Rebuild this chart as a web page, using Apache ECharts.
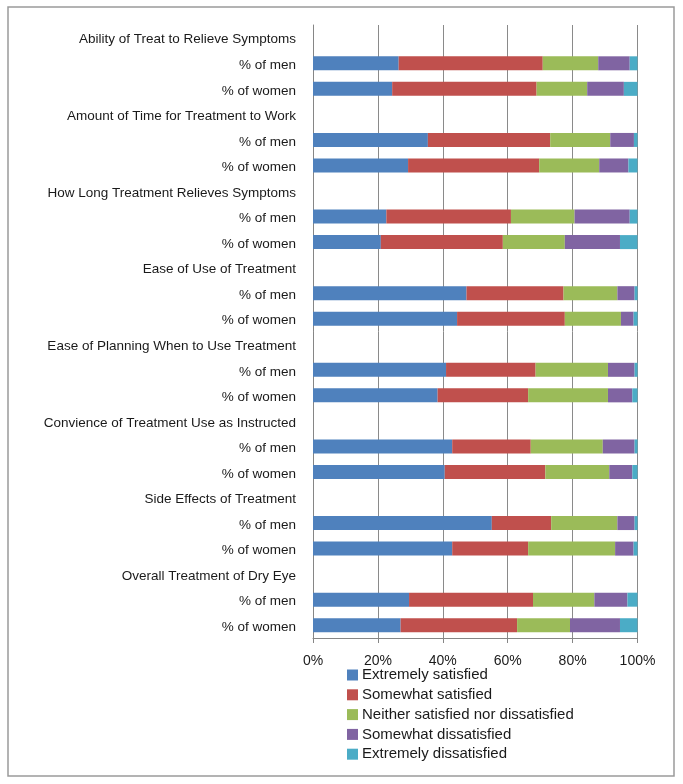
<!DOCTYPE html>
<html>
<head>
<meta charset="utf-8">
<script src="https://cdn.jsdelivr.net/npm/echarts@6/dist/echarts.min.js"></script>
<style>
html,body{margin:0;padding:0;background:#fff;}
#chart{width:683px;height:784px;}
</style>
</head>
<body>
<div id="chart"></div>
<script>
const categories = [
  'Ability of Treat to Relieve Symptoms', '% of men', '% of women',
  'Amount of Time for Treatment to Work', '% of men', '% of women',
  'How Long Treatment Relieves Symptoms', '% of men', '% of women',
  'Ease of Use of Treatment', '% of men', '% of women',
  'Ease of Planning When to Use Treatment', '% of men', '% of women',
  'Convience of Treatment Use as Instructed', '% of men', '% of women',
  'Side Effects of Treatment', '% of men', '% of women',
  'Overall Treatment of Dry Eye', '% of men', '% of women'
];
const seriesNames = [
  'Extremely satisfied', 'Somewhat satisfied', 'Neither satisfied nor dissatisfied',
  'Somewhat dissatisfied', 'Extremely dissatisfied'
];
const extremelySatisfied = [null, 26.4, 24.4, null, 35.4, 29.3, null, 22.6, 20.9, null, 47.3, 44.4, null, 41.0, 38.4, null, 42.9, 40.6, null, 55.1, 42.9, null, 29.6, 27.0];
const somewhatSatisfied = [null, 44.4, 44.5, null, 37.7, 40.4, null, 38.4, 37.6, null, 29.9, 33.2, null, 27.6, 27.9, null, 24.2, 31.0, null, 18.3, 23.4, null, 38.2, 35.9];
const neither = [null, 17.1, 15.6, null, 18.5, 18.5, null, 19.6, 19.1, null, 16.6, 17.3, null, 22.3, 24.6, null, 22.2, 19.7, null, 20.4, 26.8, null, 18.9, 16.3];
const somewhatDissatisfied = [null, 9.7, 11.3, null, 7.3, 9.0, null, 17.0, 17.0, null, 5.3, 3.9, null, 8.2, 7.5, null, 9.8, 7.1, null, 5.3, 5.7, null, 10.2, 15.4];
const extremelyDissatisfied = [null, 2.4, 4.2, null, 1.1, 2.8, null, 2.4, 5.4, null, 0.9, 1.2, null, 0.9, 1.6, null, 0.9, 1.6, null, 0.9, 1.2, null, 3.1, 5.4];
const xTicks = [0, 20, 40, 60, 80, 100];

const colors = ['#4F81BD', '#C0504D', '#9BBB59', '#8064A2', '#4BACC6'];
const allData = [extremelySatisfied, somewhatSatisfied, neither, somewhatDissatisfied, extremelyDissatisfied];

const chart = echarts.init(document.getElementById('chart'), null, {renderer: 'canvas'});
const font = 'Liberation Sans, Arial, sans-serif';
chart.setOption({
  animation: false,
  backgroundColor: '#fff',
  color: colors,
  graphic: [{
    type: 'rect', shape: {x: 8, y: 7, width: 666, height: 769},
    style: {fill: 'none', stroke: '#9a9a9a', lineWidth: 1.5}, silent: true
  }],
  legend: {
    orient: 'vertical', left: 342, top: 662,
    itemWidth: 11, itemHeight: 11, itemGap: 3.8,
    icon: 'rect',
    textStyle: {fontFamily: font, fontSize: 15, color: '#1a1a1a', lineHeight: 16, padding: [0, 0, 0, -1]},
    data: seriesNames
  },
  grid: {left: 313, right: 45.5, top: 25, bottom: 146, containLabel: false},
  xAxis: {
    type: 'value', min: 0, max: 100, interval: 20,
    axisLine: {show: true, lineStyle: {color: '#868686'}},
    axisTick: {show: true, length: 5, lineStyle: {color: '#868686'}},
    splitLine: {show: true, lineStyle: {color: '#8a8a8a', width: 1}},
    axisLabel: {
      fontFamily: font, fontSize: 14, color: '#1a1a1a', margin: 16,
      formatter: v => xTicks.includes(v) ? v + '%' : ''
    }
  },
  yAxis: {
    type: 'category', inverse: true, data: categories,
    axisLine: {show: true, lineStyle: {color: '#868686'}},
    axisTick: {show: false},
    axisLabel: {
      fontFamily: font, fontSize: 13.5, color: '#1a1a1a', margin: 17, interval: 0,
      formatter: v => '{a|' + v + '}',
      rich: {a: {fontFamily: font, fontSize: 13.5, color: '#1a1a1a', padding: [4, 0, 0, 0]}}
    }
  },
  series: seriesNames.map((n, i) => ({
    name: n, type: 'bar', stack: 'total', barWidth: 14,
    data: allData[i],
    itemStyle: {color: colors[i]}
  }))
});
</script>
</body>
</html>
